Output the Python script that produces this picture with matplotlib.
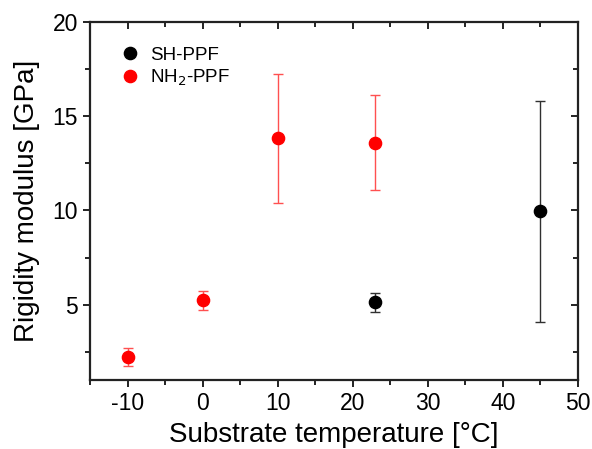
import matplotlib
matplotlib.use('Agg')
import matplotlib.pyplot as plt
from matplotlib.ticker import MultipleLocator
from matplotlib.lines import Line2D

plt.rcParams['font.family'] = ['Liberation Sans', 'DejaVu Sans']
plt.rcParams['axes.unicode_minus'] = False

# SH-PPF
sh_temp = [23, 45]
sh_mod = [5.12, 9.95]
sh_err_lo = [0.52, 5.85]
sh_err_hi = [0.48, 5.85]

# NH2-PPF
nh_temp = [-10, 0, 10, 23]
nh_mod = [2.2, 5.23, 13.83, 13.59]
nh_err_lo = [0.48, 0.52, 3.42, 2.52]
nh_err_hi = [0.48, 0.51, 3.43, 2.51]

fig = plt.figure(figsize=(5.92, 4.49), dpi=100)
ax = fig.add_axes([90/592, 1 - 380/449, 488/592, 358/449])

ax.errorbar(sh_temp, sh_mod, yerr=[sh_err_lo, sh_err_hi], fmt='o', color='black',
            ecolor='#303030', elinewidth=1, capsize=3.5, capthick=1, markersize=8.8)
ax.errorbar(nh_temp, nh_mod, yerr=[nh_err_lo, nh_err_hi], fmt='o', color='#ff0000',
            ecolor='#ff5050', elinewidth=1, capsize=3.5, capthick=1, markersize=8.8)

ax.set_xlim(-15, 50)
ax.set_ylim(1, 20)
ax.xaxis.set_major_locator(MultipleLocator(10))
ax.xaxis.set_minor_locator(MultipleLocator(5))
ax.yaxis.set_major_locator(MultipleLocator(5))
ax.yaxis.set_minor_locator(MultipleLocator(2.5))

for s in ax.spines.values():
    s.set_linewidth(1.6)
    s.set_color('#222222')

ax.tick_params(which='both', direction='out', width=1.4, labelsize=16.5, colors='#222222',
               labelcolor='black')
ax.tick_params(which='major', length=5)
ax.tick_params(which='minor', length=3.5)
ax.tick_params(which='both', top=True, right=True, labeltop=False, labelright=False)
# mirrored ticks point inward
for t in ax.xaxis.get_major_ticks() + ax.xaxis.get_minor_ticks():
    t.tick2line.set_marker(3)
for t in ax.yaxis.get_major_ticks() + ax.yaxis.get_minor_ticks():
    t.tick2line.set_marker(0)

ax.set_xlabel('Substrate temperature [°C]', fontsize=20, labelpad=5)
ax.set_ylabel('Rigidity modulus [GPa]', fontsize=20, labelpad=9)

handles = [Line2D([], [], ls='none', marker='o', color='black', markersize=8.8),
           Line2D([], [], ls='none', marker='o', color='#ff0000', markersize=8.8)]
ax.legend(handles, ['SH-PPF', 'NH$_2$-PPF'], loc='upper left', bbox_to_anchor=(0.02, 0.978),
          frameon=False, fontsize=13.5, handletextpad=0.4, labelspacing=0.2,
          handlelength=1.4)

fig.savefig('out.png', dpi=100)
